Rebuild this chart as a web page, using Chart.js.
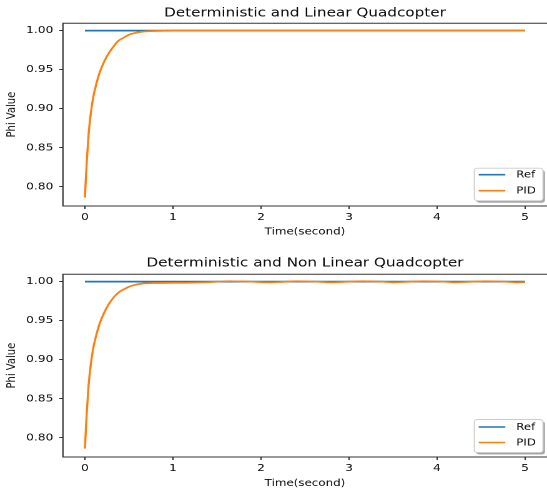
<!DOCTYPE html>
<html><head><meta charset="utf-8">
<script src="https://cdn.jsdelivr.net/npm/chart.js@4.4.1/dist/chart.umd.min.js"></script>
<style>
html,body{margin:0;padding:0;background:#fff;}
#wrap{position:relative;width:547px;height:493px;overflow:hidden;background:#fff;}
canvas{position:absolute;left:0;}
</style></head><body>
<div id="wrap">
<canvas id="c1" width="438" height="246" style="top:0px;width:547px;height:246px;"></canvas>
<canvas id="c2" width="438" height="247" style="top:246px;width:547px;height:247px;"></canvas>
</div>
<script>
// ---- data ----
const titles = ['Deterministic and Linear Quadcopter', 'Deterministic and Non Linear Quadcopter'];
const seriesNames = ['Ref', 'PID'];
const xTicks = [0, 1, 2, 3, 4, 5];
const yTicks = [0.80, 0.85, 0.90, 0.95, 1.00];

const timeRef = [0, 5];
const refValues = [1.0, 1.0];

const timeLinear = [0, 0.01, 0.02, 0.04, 0.06, 0.08, 0.1, 0.13, 0.16, 0.19, 0.23, 0.27, 0.32, 0.38, 0.44, 0.5, 0.57, 0.65, 0.75, 0.9, 1.0, 1.5, 2.0, 2.5, 3.0, 3.5, 4.0, 4.5, 5.0];
const pidLinear = [0.786, 0.810, 0.831, 0.865, 0.888, 0.905, 0.918, 0.932, 0.944, 0.953, 0.963, 0.971, 0.979, 0.987, 0.991, 0.9948, 0.997, 0.9986, 0.9994, 0.9998, 1.0, 1.0, 1.0, 1.0, 1.0, 1.0, 1.0, 1.0, 1.0];

const timeNonLinear = [0, 0.01, 0.02, 0.04, 0.06, 0.08, 0.1, 0.13, 0.16, 0.19, 0.23, 0.27, 0.32, 0.38, 0.44, 0.5, 0.57, 0.65, 0.8, 1.0, 1.2, 1.4, 1.65, 1.85, 2.1, 2.25, 2.4, 2.6, 2.8, 2.95, 3.15, 3.35, 3.5, 3.65, 3.85, 4.05, 4.2, 4.35, 4.55, 4.75, 4.9, 5.0];
const pidNonLinear = [0.786, 0.810, 0.831, 0.865, 0.888, 0.905, 0.918, 0.932, 0.944, 0.953, 0.963, 0.971, 0.979, 0.986, 0.990, 0.9935, 0.996, 0.9975, 0.9983, 0.9985, 0.9987, 0.9993, 1.0006, 1.0001, 0.9991, 0.9997, 1.0005, 1.0001, 0.9991, 0.9997, 1.0005, 1.0001, 0.9991, 0.9997, 1.0005, 1.0001, 0.9991, 0.9997, 1.0005, 1.0001, 0.9991, 0.9993];

// ---- style ----
const F = '"DejaVu Sans", sans-serif';
const TXT = '#0a0a0a';
const AX = '#333';
const BLUE = '#1f77b4';
const ORANGE = '#ff7f0e';

function pts(xs, ys) { return xs.map((x, i) => ({x: x, y: ys[i]})); }

const spinesPlugin = {
  id: 'spines',
  afterDatasetsDraw(chart) {
    const {ctx, chartArea: a} = chart;
    ctx.save();
    ctx.strokeStyle = AX;
    ctx.lineWidth = 1.1;
    ctx.beginPath();
    ctx.moveTo(a.right + 2, a.top);
    ctx.lineTo(a.left, a.top);
    ctx.lineTo(a.left, a.bottom);
    ctx.lineTo(a.right + 2, a.bottom);
    ctx.stroke();
    ctx.restore();
  }
};

function makeLegendPlugin(cfg) {
  return {
    id: 'boxLegend',
    afterDraw(chart) {
      const {ctx, chartArea: a} = chart;
      const w = 55, h = cfg.lgH;
      const x = a.right - 3.2 - w;
      const y = a.bottom - cfg.lgB - h;
      ctx.save();
      ctx.fillStyle = 'rgba(0,0,0,0.35)';
      ctx.beginPath(); ctx.roundRect(x + 1.6, y + 2, w, h, 2.5); ctx.fill();
      ctx.fillStyle = '#fff';
      ctx.strokeStyle = '#cccccc';
      ctx.lineWidth = 0.9;
      ctx.beginPath(); ctx.roundRect(x, y, w, h, 2.5); ctx.fill(); ctx.stroke();
      const ds = chart.data.datasets.slice().sort((p, q) => p.legendIndex - q.legendIndex);
      ds.forEach((d, i) => {
        const ry = y + cfg.rows[i];
        ctx.strokeStyle = d.borderColor;
        ctx.lineWidth = 1.6;
        ctx.beginPath(); ctx.moveTo(x + 3.5, ry); ctx.lineTo(x + 24.8, ry); ctx.stroke();
        ctx.fillStyle = TXT;
        ctx.font = '9.4px ' + F;
        ctx.textBaseline = 'middle';
        ctx.textAlign = 'left';
        ctx.fillText(d.label, x + 33.6, ry + 0.5);
      });
      ctx.restore();
    }
  };
}

function makeChart(id, title, tPid, vPid, cfg) {
  const tickGrid = {drawOnChartArea: false, drawTicks: true, tickLength: 3, color: AX, lineWidth: 1};
  return new Chart(document.getElementById(id), {
    type: 'line',
    data: {
      datasets: [
        {label: seriesNames[1], legendIndex: 1, data: pts(tPid, vPid), borderColor: ORANGE, borderWidth: 1.7,
         pointRadius: 0, cubicInterpolationMode: 'monotone', fill: false},
        {label: seriesNames[0], legendIndex: 0, data: pts(timeRef, refValues), borderColor: BLUE, borderWidth: 1.7,
         pointRadius: 0, tension: 0, fill: false}
      ]
    },
    options: {
      responsive: false,
      animation: false,
      devicePixelRatio: 2,
      events: [],
      layout: {padding: {left: 0, right: 0, top: 0, bottom: 0}},
      plugins: {
        legend: {display: false},
        tooltip: {enabled: false},
        title: {display: true, text: title, fullSize: false, color: TXT,
                font: {family: F, size: 12.2, weight: 'normal'},
                padding: {top: cfg.tTop, bottom: cfg.tBot}}
      },
      scales: {
        x: {
          type: 'linear', min: -0.25, max: 5.25,
          afterBuildTicks: s => { s.ticks = xTicks.map(v => ({value: v})); },
          afterFit: s => { s.height = cfg.xH; },
          grid: tickGrid,
          border: {display: false},
          ticks: {padding: cfg.xPad, color: TXT, font: {family: F, size: 9.8}, maxRotation: 0, autoSkip: false,
                  callback: v => String(v)},
          title: {display: true, text: 'Time(second)', color: TXT, font: {family: F, size: 9.5},
                  padding: {top: 0, bottom: cfg.xtPad}}
        },
        y: {
          type: 'linear', min: 0.7753, max: 1.0095,
          afterBuildTicks: s => { s.ticks = yTicks.map(v => ({value: v})); },
          afterFit: s => { s.width = 50.4; },
          grid: tickGrid,
          border: {display: false},
          ticks: {padding: 4.7, color: TXT, font: {family: F, size: 9.8}, autoSkip: false,
                  callback: v => Number(v).toFixed(2)},
          title: {display: true, text: 'Phi Value', color: TXT, font: {family: F, size: 10},
                  padding: {top: 3.2, bottom: 0}}
        }
      }
    },
    plugins: [spinesPlugin, makeLegendPlugin(cfg)]
  });
}

makeChart('c1', titles[0], timeLinear, pidLinear,
  {tTop: 5.8, tBot: 2.8, xH: 40, xPad: 2.5, xtPad: 8.5, lgH: 32.5, lgB: 5.3, rows: [6.5, 22.5]});
makeChart('c2', titles[1], timeNonLinear, pidNonLinear,
  {tTop: 9.8, tBot: 3.8, xH: 36, xPad: 2.8, xtPad: 3.9, lgH: 33, lgB: 4.5, rows: [7.5, 23]});
</script>
</body></html>
